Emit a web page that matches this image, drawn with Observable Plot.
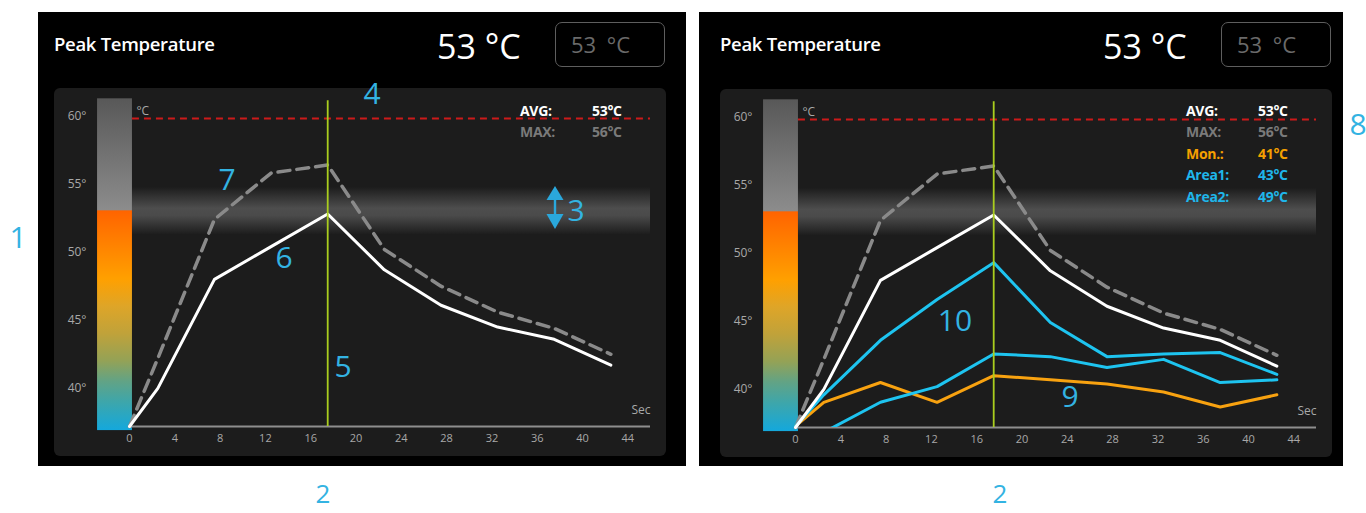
<!DOCTYPE html>
<html><head><meta charset="utf-8">
<script src="https://cdn.jsdelivr.net/npm/d3@7"></script>
<script src="https://cdn.jsdelivr.net/npm/@observablehq/plot@0.6"></script>
<style>
html,body{margin:0;padding:0;background:#fff;}
body{width:1366px;height:513px;position:relative;overflow:hidden;font-family:"Open Sans",sans-serif;}
.panel{position:absolute;background:#000;}
.card{position:absolute;background:#1c1c1c;border-radius:6px;width:612px;height:368px;overflow:hidden;}
.card svg{position:absolute;left:0;top:0;}
.title{position:absolute;color:#fff;font-size:18.5px;font-weight:600;line-height:22px;white-space:nowrap;letter-spacing:-0.3px;}
.big{position:absolute;color:#fff;font-size:34px;line-height:40px;white-space:nowrap;}
.box{position:absolute;width:108px;height:43px;border:1.5px solid #5e5e5e;border-radius:7px;color:#6a6a6a;font-size:22px;line-height:43px;white-space:nowrap;}
.box span{position:absolute;left:15px;top:0;word-spacing:5px;}
.note{position:absolute;color:#33b3e2;font-size:30px;line-height:0.9;transform:translate(-50%,-50%);white-space:nowrap;}
.note.low{font-size:26px;}
.leg{position:absolute;font-size:14px;font-weight:700;line-height:1;transform:translateY(-50%);white-space:nowrap;letter-spacing:-0.3px;}
</style></head><body>
<script>
// ---- data ----
const seconds   = [0, 2.5, 7.5, 12.5, 17.5, 22.5, 27.5, 32.5, 37.5, 42.5];
const avgTemp   = [37.2, 40.0, 48.0, 50.4, 52.8, 48.7, 46.1, 44.5, 43.6, 41.7];
const maxTemp   = [37.2, 42.2, 52.4, 55.8, 56.4, 50.2, 47.5, 45.6, 44.4, 42.5];
const monTemp   = [37.3, 39.05, 40.5, 39.05, 41.0, 40.7, 40.4, 39.8, 38.7, 39.6];
const area1Temp = [35.5, 36.85, 39.05, 40.2, 42.6, 42.4, 41.6, 42.2, 40.5, 40.7];
const area2Temp = [37.3, 39.6, 43.6, 46.6, 49.3, 44.9, 42.4, 42.6, 42.7, 41.1];
const xTicks = [0, 4, 8, 12, 16, 20, 24, 28, 32, 36, 40, 44];
const yTicks = [40, 45, 50, 55, 60];
const cursorSec = 17.5;
const limitTemp = 59.8;
const avgBandTemp = 53;
const legendLabels = ["AVG:", "MAX:", "Mon.:", "Area1:", "Area2:"];
const legendValues = ["53°C", "56°C", "41°C", "43°C", "49°C"];
const titleText = "Peak Temperature";
const peakText = "53 °C";
const xUnit = "Sec";
const yUnit = "°C";

// ---- style ----
const Y0 = 37.2, Y1 = 61.2, X1 = 46;
const BAR0 = 36.9, BAR1 = 61.25;
const barStops = [
  [61.25, "#585858"], [53.05, "#8c8c8c"], [53.0, "#ff6400"], [50.5, "#ff8200"],
  [48, "#ffa000"], [46, "#dea528"], [44, "#c0a23a"], [42, "#94a256"],
  [40.5, "#62a385"], [39, "#3ea6aa"], [36.9, "#14a8dc"]
];
const legendColors = ["#ffffff", "#7a7a7a", "#f5a000", "#1fb6ea", "#1fb6ea"];
const CYAN = "#1ec4f0", ORANGE = "#f8a210";

function rows(vals) { return seconds.map((s, i) => ({t: s, v: vals[i]})); }

function chart(id, extra) {
  const defs = () => {
    const d = d3.create("svg:defs");
    const g1 = d.append("linearGradient").attr("id", id + "bar").attr("x1", 0).attr("y1", 0).attr("x2", 0).attr("y2", 1);
    barStops.forEach(([v, c]) => g1.append("stop").attr("offset", (BAR1 - v) / (BAR1 - BAR0)).attr("stop-color", c));
    const g2 = d.append("linearGradient").attr("id", id + "glow").attr("x1", 0).attr("y1", 0).attr("x2", 0).attr("y2", 1);
    g2.append("stop").attr("offset", 0).attr("stop-color", "#5a5a5a").attr("stop-opacity", 0);
    g2.append("stop").attr("offset", 0.45).attr("stop-color", "#5a5a5a").attr("stop-opacity", 0.8);
    g2.append("stop").attr("offset", 0.6).attr("stop-color", "#5a5a5a").attr("stop-opacity", 0.75);
    g2.append("stop").attr("offset", 1).attr("stop-color", "#5a5a5a").attr("stop-opacity", 0);
    return d.node();
  };
  const marks = [
    defs,
    Plot.rect([avgBandTemp], {x1: 0.26, x2: X1, y1: d => d - 1.75, y2: d => d + 1.75, fill: `url(#${id}glow)`}),
    Plot.rect([0], {x1: -2.82, x2: 0.26, y1: BAR0, y2: BAR1, fill: `url(#${id}bar)`}),
    Plot.ruleY([Y0], {x1: 0, x2: X1, stroke: "#8e8e8e", strokeWidth: 2}),
    Plot.ruleY([limitTemp], {x1: 0.26, x2: X1, stroke: "#cc1a1a", strokeWidth: 2, strokeDasharray: "7,5"}),
    Plot.text(xTicks, {x: d => d, y: Y0, dy: 12, text: d => String(d), fill: "#a8a8a8", fontSize: 11}),
    Plot.text(yTicks, {x: 0, y: d => d, dx: -43, textAnchor: "end", text: d => d + "°", fill: "#a8a8a8", fontSize: 12}),
    Plot.text([xUnit], {x: X1, y: Y0, dy: -16, textAnchor: "end", text: d => d, fill: "#a8a8a8", fontSize: 12}),
    Plot.text([yUnit], {x: 0.26, y: Y1, dx: 4, dy: 12, textAnchor: "start", text: d => d, fill: "#a8a8a8", fontSize: 12}),
    Plot.line(rows(maxTemp), {x: "t", y: "v", stroke: "#8a8a8a", strokeWidth: 3.5, strokeDasharray: "12,7", strokeLinejoin: "round"}),
    ...extra,
    Plot.line(rows(avgTemp), {x: "t", y: "v", stroke: "#ffffff", strokeWidth: 3, strokeLinejoin: "round", strokeLinecap: "round"}),
    Plot.ruleX([cursorSec], {y1: Y0, y2: 61.1, stroke: "#aacd1e", strokeWidth: 1.8})
  ];
  return Plot.plot({
    width: 612, height: 368,
    marginLeft: 75, marginRight: 16, marginTop: 11, marginBottom: 30,
    x: {domain: [0, X1], axis: null},
    y: {domain: [Y0, Y1], axis: null},
    style: {background: "transparent", fontFamily: "Open Sans", overflow: "visible"},
    marks
  });
}

function el(cls, style, html) {
  const e = document.createElement("div");
  e.className = cls;
  Object.assign(e.style, style);
  if (html != null) e.innerHTML = html;
  document.body.appendChild(e);
  return e;
}

function panel(px, pw, ox, cardTop, id, extra, nLegend) {
  el("panel", {left: px + "px", top: "12px", width: pw + "px", height: "454px"});
  el("title", {left: (54 + ox) + "px", top: "33px"}).textContent = titleText;
  el("big", {left: (437 + ox) + "px", top: "26px"}).textContent = peakText;
  const box = el("box", {left: (555 + ox) + "px", top: "22px"});
  const sp = document.createElement("span"); sp.textContent = peakText; box.appendChild(sp);
  const card = el("card", {left: (54 + ox) + "px", top: cardTop + "px"});
  card.appendChild(chart(id, extra));
  for (let i = 0; i < nLegend; i++) {
    el("leg", {left: (520 + ox) + "px", top: (110.5 + i * 21.5) + "px", color: legendColors[i]}).textContent = legendLabels[i];
    el("leg", {left: (592 + ox) + "px", top: (110.5 + i * 21.5) + "px", color: legendColors[i]}).textContent = legendValues[i];
  }
}

panel(38, 648, 0, 88, "L", [], 2);
panel(699, 644, 666, 89, "R", [
  Plot.line(rows(monTemp), {x: "t", y: "v", stroke: ORANGE, strokeWidth: 3, strokeLinejoin: "round"}),
  Plot.line(rows(area1Temp), {x: "t", y: "v", stroke: CYAN, strokeWidth: 3, strokeLinejoin: "round", clip: true}),
  Plot.line(rows(area2Temp), {x: "t", y: "v", stroke: CYAN, strokeWidth: 3, strokeLinejoin: "round"})
], 5);

// annotation callouts
const notes = [["1", 18, 236], ["3", 576, 209], ["4", 372, 92],
  ["5", 343, 365], ["6", 284, 256], ["7", 227, 178], ["8", 1358, 123], ["9", 1070, 395], ["10", 955, 319]];
notes.forEach(([t, x, y]) => { el("note", {left: x + "px", top: y + "px"}).textContent = t; });
[["2", 323, 494], ["2", 1000, 494]].forEach(([t, x, y]) => { el("note low", {left: x + "px", top: y + "px"}).textContent = t; });
el("", {position: "absolute", left: "545px", top: "184px", width: "20px", height: "48px"},
  '<svg width="20" height="48" xmlns="http://www.w3.org/2000/svg"><g fill="#2aa8dc"><polygon points="1.5,16 10,2 18.5,16"/><rect x="8.8" y="15" width="2.4" height="16"/><polygon points="1.5,30 18.5,30 10,45"/></g></svg>');
</script>
</body></html>
